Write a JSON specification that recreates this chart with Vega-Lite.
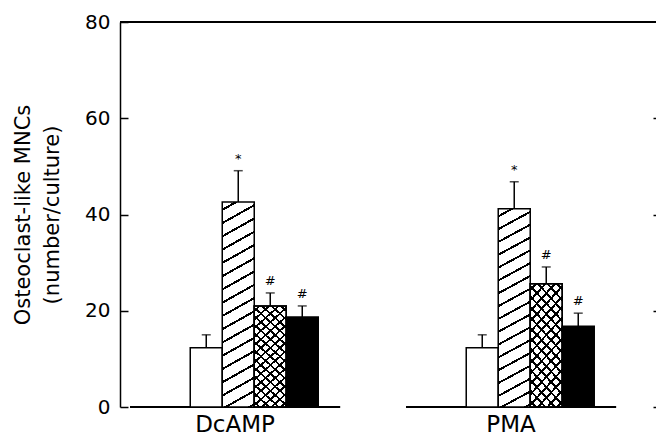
{
  "$schema": "https://vega.github.io/schema/vega-lite/v6.json",
  "autosize": "none",
  "width": 536,
  "height": 385,
  "padding": {"left": 120, "top": 22, "right": 0, "bottom": 34},
  "background": "white",
  "config": {
    "view": {"stroke": null},
    "font": "DejaVu Sans",
    "axis": {"labelColor": "black", "titleColor": "black", "domainColor": "black", "tickColor": "black", "grid": false, "labelFont": "DejaVu Sans", "titleFont": "DejaVu Sans", "titleFontWeight": "normal"},
    "axisX": {"domain": false, "ticks": false, "labelAngle": 0, "labelFontSize": 23, "labelPadding": 6, "labelBaseline": "top", "title": null}
  },
  "data": {
    "values": [
      {"group": "DcAMP", "treatment": "open", "mean": 12.3, "upper": 15.0, "sig": ""},
      {"group": "DcAMP", "treatment": "hatched", "mean": 42.6, "upper": 49.1, "sig": "*"},
      {"group": "DcAMP", "treatment": "crosshatched", "mean": 21.0, "upper": 23.7, "sig": "#"},
      {"group": "DcAMP", "treatment": "solid", "mean": 18.7, "upper": 21.0, "sig": "#"},
      {"group": "PMA", "treatment": "open", "mean": 12.3, "upper": 15.0, "sig": ""},
      {"group": "PMA", "treatment": "hatched", "mean": 41.2, "upper": 46.8, "sig": "*"},
      {"group": "PMA", "treatment": "crosshatched", "mean": 25.6, "upper": 29.1, "sig": "#"},
      {"group": "PMA", "treatment": "solid", "mean": 16.8, "upper": 19.5, "sig": "#"}
    ]
  },
  "layer": [
    {
      "mark": {"type": "bar", "stroke": "black", "strokeWidth": 1.5, "fill": null, "width": {"band": 1.094}},
      "encoding": {
        "x": {"field": "group", "type": "nominal", "sort": ["DcAMP", "PMA"], "scale": {"paddingInner": 0.3043, "paddingOuter": 0.1232, "align": 0.28}, "title": null},
        "y": {"datum": 0, "type": "quantitative", "axis": null},
        "y2": {"datum": 0}
      }
    },
    {
      "mark": {"type": "bar", "stroke": "black", "strokeWidth": 1.5},
      "encoding": {
        "x": {"field": "group", "type": "nominal", "sort": ["DcAMP", "PMA"], "title": null},
        "xOffset": {"field": "treatment", "type": "nominal", "sort": ["open", "hatched", "crosshatched", "solid"], "scale": {"paddingInner": 0, "paddingOuter": 1, "align": 0.8}},
        "y": {
          "field": "mean", "type": "quantitative",
          "scale": {"domain": [0, 80], "nice": false, "zero": true},
          "axis": {"orient": "left", "values": [0, 20, 40, 60, 80], "tickSize": -8, "labelPadding": 18, "labelFontSize": 20, "tickWidth": 1.5, "domainWidth": 1.5,
            "title": ["Osteoclast-like MNCs", "(number/culture)"], "titleFontSize": 21, "titleLineHeight": 29, "titlePadding": 22}
        },
        "fill": {
          "condition": [
            {"test": "datum.treatment === 'hatched'", "value": {"gradient": "linear", "x1": 0, "y1": 0, "x2": 0.0945, "y2": 1.0794, "stops": [
              {"offset": 0, "color": "white"},
              {"offset": 0.0300, "color": "white"}, {"offset": 0.0300, "color": "black"}, {"offset": 0.0405, "color": "black"}, {"offset": 0.0405, "color": "white"},
              {"offset": 0.0895, "color": "white"}, {"offset": 0.0895, "color": "black"}, {"offset": 0.1000, "color": "black"}, {"offset": 0.1000, "color": "white"},
              {"offset": 0.1490, "color": "white"}, {"offset": 0.1490, "color": "black"}, {"offset": 0.1595, "color": "black"}, {"offset": 0.1595, "color": "white"},
              {"offset": 0.2085, "color": "white"}, {"offset": 0.2085, "color": "black"}, {"offset": 0.2190, "color": "black"}, {"offset": 0.2190, "color": "white"},
              {"offset": 0.2680, "color": "white"}, {"offset": 0.2680, "color": "black"}, {"offset": 0.2785, "color": "black"}, {"offset": 0.2785, "color": "white"},
              {"offset": 0.3275, "color": "white"}, {"offset": 0.3275, "color": "black"}, {"offset": 0.3380, "color": "black"}, {"offset": 0.3380, "color": "white"},
              {"offset": 0.3870, "color": "white"}, {"offset": 0.3870, "color": "black"}, {"offset": 0.3975, "color": "black"}, {"offset": 0.3975, "color": "white"},
              {"offset": 0.4465, "color": "white"}, {"offset": 0.4465, "color": "black"}, {"offset": 0.4570, "color": "black"}, {"offset": 0.4570, "color": "white"},
              {"offset": 0.5060, "color": "white"}, {"offset": 0.5060, "color": "black"}, {"offset": 0.5165, "color": "black"}, {"offset": 0.5165, "color": "white"},
              {"offset": 0.5655, "color": "white"}, {"offset": 0.5655, "color": "black"}, {"offset": 0.5760, "color": "black"}, {"offset": 0.5760, "color": "white"},
              {"offset": 0.6250, "color": "white"}, {"offset": 0.6250, "color": "black"}, {"offset": 0.6355, "color": "black"}, {"offset": 0.6355, "color": "white"},
              {"offset": 0.6845, "color": "white"}, {"offset": 0.6845, "color": "black"}, {"offset": 0.6950, "color": "black"}, {"offset": 0.6950, "color": "white"},
              {"offset": 0.7440, "color": "white"}, {"offset": 0.7440, "color": "black"}, {"offset": 0.7545, "color": "black"}, {"offset": 0.7545, "color": "white"},
              {"offset": 0.8035, "color": "white"}, {"offset": 0.8035, "color": "black"}, {"offset": 0.8140, "color": "black"}, {"offset": 0.8140, "color": "white"},
              {"offset": 0.8630, "color": "white"}, {"offset": 0.8630, "color": "black"}, {"offset": 0.8735, "color": "black"}, {"offset": 0.8735, "color": "white"},
              {"offset": 0.9225, "color": "white"}, {"offset": 0.9225, "color": "black"}, {"offset": 0.9330, "color": "black"}, {"offset": 0.9330, "color": "white"},
              {"offset": 0.9820, "color": "white"}, {"offset": 0.9820, "color": "black"}, {"offset": 0.9925, "color": "black"}, {"offset": 0.9925, "color": "white"},
              {"offset": 1, "color": "white"}
            ]}},
            {"test": "datum.treatment === 'crosshatched'", "value": {"gradient": "linear", "x1": 0, "y1": 0, "x2": 0.34, "y2": 1.189, "stops": [
              {"offset": 0, "color": "white"},
              {"offset": 0.030, "color": "white"}, {"offset": 0.030, "color": "black"}, {"offset": 0.048, "color": "black"}, {"offset": 0.048, "color": "white"},
              {"offset": 0.096, "color": "white"}, {"offset": 0.096, "color": "black"}, {"offset": 0.114, "color": "black"}, {"offset": 0.114, "color": "white"},
              {"offset": 0.162, "color": "white"}, {"offset": 0.162, "color": "black"}, {"offset": 0.180, "color": "black"}, {"offset": 0.180, "color": "white"},
              {"offset": 0.228, "color": "white"}, {"offset": 0.228, "color": "black"}, {"offset": 0.246, "color": "black"}, {"offset": 0.246, "color": "white"},
              {"offset": 0.294, "color": "white"}, {"offset": 0.294, "color": "black"}, {"offset": 0.312, "color": "black"}, {"offset": 0.312, "color": "white"},
              {"offset": 0.360, "color": "white"}, {"offset": 0.360, "color": "black"}, {"offset": 0.378, "color": "black"}, {"offset": 0.378, "color": "white"},
              {"offset": 0.426, "color": "white"}, {"offset": 0.426, "color": "black"}, {"offset": 0.444, "color": "black"}, {"offset": 0.444, "color": "white"},
              {"offset": 0.492, "color": "white"}, {"offset": 0.492, "color": "black"}, {"offset": 0.510, "color": "black"}, {"offset": 0.510, "color": "white"},
              {"offset": 0.558, "color": "white"}, {"offset": 0.558, "color": "black"}, {"offset": 0.576, "color": "black"}, {"offset": 0.576, "color": "white"},
              {"offset": 0.624, "color": "white"}, {"offset": 0.624, "color": "black"}, {"offset": 0.642, "color": "black"}, {"offset": 0.642, "color": "white"},
              {"offset": 0.690, "color": "white"}, {"offset": 0.690, "color": "black"}, {"offset": 0.708, "color": "black"}, {"offset": 0.708, "color": "white"},
              {"offset": 0.756, "color": "white"}, {"offset": 0.756, "color": "black"}, {"offset": 0.774, "color": "black"}, {"offset": 0.774, "color": "white"},
              {"offset": 0.822, "color": "white"}, {"offset": 0.822, "color": "black"}, {"offset": 0.840, "color": "black"}, {"offset": 0.840, "color": "white"},
              {"offset": 0.888, "color": "white"}, {"offset": 0.888, "color": "black"}, {"offset": 0.906, "color": "black"}, {"offset": 0.906, "color": "white"},
              {"offset": 0.954, "color": "white"}, {"offset": 0.954, "color": "black"}, {"offset": 0.972, "color": "black"}, {"offset": 0.972, "color": "white"},
              {"offset": 1, "color": "white"}
            ]}},
            {"test": "datum.treatment === 'solid'", "value": "black"}
          ],
          "value": "white"
        }
      }
    },
    {
      "transform": [{"filter": "datum.treatment === 'crosshatched'"}],
      "mark": {"type": "bar", "stroke": "black", "strokeWidth": 1.5},
      "encoding": {
        "x": {"field": "group", "type": "nominal", "sort": ["DcAMP", "PMA"], "title": null},
        "xOffset": {"field": "treatment", "type": "nominal", "sort": ["open", "hatched", "crosshatched", "solid"]},
        "y": {"field": "mean", "type": "quantitative", "axis": null},
        "fill": {"value": {"gradient": "linear", "x1": 0, "y1": 1, "x2": 0.34, "y2": -0.189, "stops": [
          {"offset": 0, "color": "rgba(0,0,0,0)"},
          {"offset": 0.030, "color": "rgba(0,0,0,0)"}, {"offset": 0.030, "color": "black"}, {"offset": 0.048, "color": "black"}, {"offset": 0.048, "color": "rgba(0,0,0,0)"},
          {"offset": 0.096, "color": "rgba(0,0,0,0)"}, {"offset": 0.096, "color": "black"}, {"offset": 0.114, "color": "black"}, {"offset": 0.114, "color": "rgba(0,0,0,0)"},
          {"offset": 0.162, "color": "rgba(0,0,0,0)"}, {"offset": 0.162, "color": "black"}, {"offset": 0.180, "color": "black"}, {"offset": 0.180, "color": "rgba(0,0,0,0)"},
          {"offset": 0.228, "color": "rgba(0,0,0,0)"}, {"offset": 0.228, "color": "black"}, {"offset": 0.246, "color": "black"}, {"offset": 0.246, "color": "rgba(0,0,0,0)"},
          {"offset": 0.294, "color": "rgba(0,0,0,0)"}, {"offset": 0.294, "color": "black"}, {"offset": 0.312, "color": "black"}, {"offset": 0.312, "color": "rgba(0,0,0,0)"},
          {"offset": 0.360, "color": "rgba(0,0,0,0)"}, {"offset": 0.360, "color": "black"}, {"offset": 0.378, "color": "black"}, {"offset": 0.378, "color": "rgba(0,0,0,0)"},
          {"offset": 0.426, "color": "rgba(0,0,0,0)"}, {"offset": 0.426, "color": "black"}, {"offset": 0.444, "color": "black"}, {"offset": 0.444, "color": "rgba(0,0,0,0)"},
          {"offset": 0.492, "color": "rgba(0,0,0,0)"}, {"offset": 0.492, "color": "black"}, {"offset": 0.510, "color": "black"}, {"offset": 0.510, "color": "rgba(0,0,0,0)"},
          {"offset": 0.558, "color": "rgba(0,0,0,0)"}, {"offset": 0.558, "color": "black"}, {"offset": 0.576, "color": "black"}, {"offset": 0.576, "color": "rgba(0,0,0,0)"},
          {"offset": 0.624, "color": "rgba(0,0,0,0)"}, {"offset": 0.624, "color": "black"}, {"offset": 0.642, "color": "black"}, {"offset": 0.642, "color": "rgba(0,0,0,0)"},
          {"offset": 0.690, "color": "rgba(0,0,0,0)"}, {"offset": 0.690, "color": "black"}, {"offset": 0.708, "color": "black"}, {"offset": 0.708, "color": "rgba(0,0,0,0)"},
          {"offset": 0.756, "color": "rgba(0,0,0,0)"}, {"offset": 0.756, "color": "black"}, {"offset": 0.774, "color": "black"}, {"offset": 0.774, "color": "rgba(0,0,0,0)"},
          {"offset": 0.822, "color": "rgba(0,0,0,0)"}, {"offset": 0.822, "color": "black"}, {"offset": 0.840, "color": "black"}, {"offset": 0.840, "color": "rgba(0,0,0,0)"},
          {"offset": 0.888, "color": "rgba(0,0,0,0)"}, {"offset": 0.888, "color": "black"}, {"offset": 0.906, "color": "black"}, {"offset": 0.906, "color": "rgba(0,0,0,0)"},
          {"offset": 0.954, "color": "rgba(0,0,0,0)"}, {"offset": 0.954, "color": "black"}, {"offset": 0.972, "color": "black"}, {"offset": 0.972, "color": "rgba(0,0,0,0)"},
          {"offset": 1, "color": "rgba(0,0,0,0)"}
        ]}}
      }
    },
    {
      "mark": {"type": "rule", "color": "black", "strokeWidth": 1.5},
      "encoding": {
        "x": {"field": "group", "type": "nominal", "sort": ["DcAMP", "PMA"], "title": null},
        "xOffset": {"field": "treatment", "type": "nominal", "sort": ["open", "hatched", "crosshatched", "solid"]},
        "y": {"field": "mean", "type": "quantitative", "axis": null},
        "y2": {"field": "upper"}
      }
    },
    {
      "mark": {"type": "tick", "color": "black", "size": 9, "thickness": 1.5},
      "encoding": {
        "x": {"field": "group", "type": "nominal", "sort": ["DcAMP", "PMA"], "title": null},
        "xOffset": {"field": "treatment", "type": "nominal", "sort": ["open", "hatched", "crosshatched", "solid"]},
        "y": {"field": "upper", "type": "quantitative", "axis": null}
      }
    },
    {
      "mark": {"type": "text", "fill": "black", "fontSize": 13, "dy": -12, "baseline": "middle"},
      "encoding": {
        "x": {"field": "group", "type": "nominal", "sort": ["DcAMP", "PMA"], "title": null},
        "xOffset": {"field": "treatment", "type": "nominal", "sort": ["open", "hatched", "crosshatched", "solid"]},
        "y": {"field": "upper", "type": "quantitative", "axis": null},
        "text": {"field": "sig"}
      }
    },
    {
      "mark": {"type": "rule", "color": "black", "strokeWidth": 1.5},
      "encoding": {
        "y": {"datum": 80, "type": "quantitative",
          "axis": {"orient": "right", "labels": false, "title": null, "values": [0, 20, 40, 60], "tickSize": -3, "tickWidth": 1.5, "domain": false}}
      }
    }
  ],
  "resolve": {"axis": {"y": "independent"}}
}
